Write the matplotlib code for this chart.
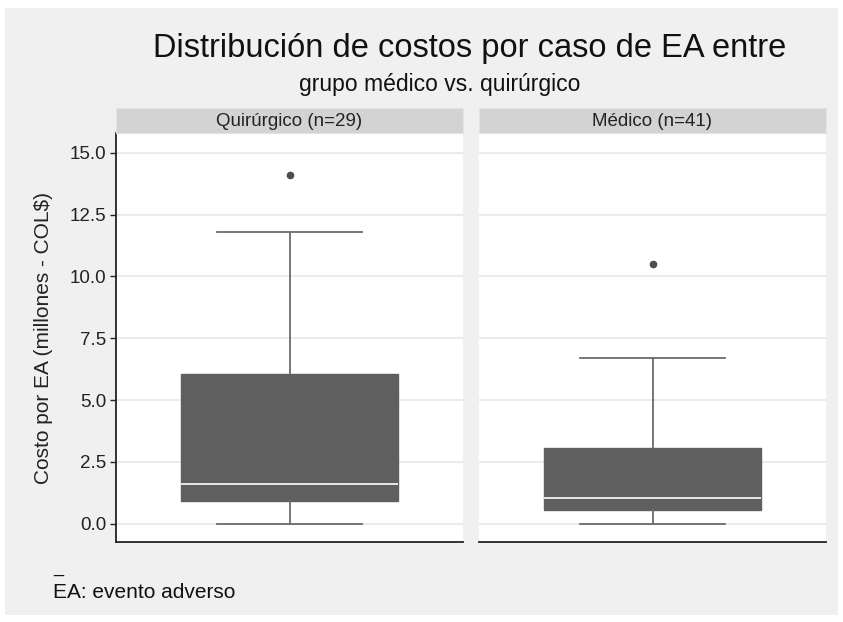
import numpy as np
import matplotlib
matplotlib.use("Agg")
import matplotlib.pyplot as plt
from matplotlib.patches import Rectangle

plt.rcParams['font.family'] = ['Liberation Sans', 'DejaVu Sans']

# Box summaries per group (millones COL$)
groups = ["Quirúrgico (n=29)", "Médico (n=41)"]
q1 = [0.93, 0.55]
medians = [1.59, 1.03]
q3 = [6.06, 3.08]
whisk_lo = [0.0, 0.0]
whisk_hi = [11.78, 6.69]
outliers = [[14.11], [10.5]]

yticks = [0.0, 2.5, 5.0, 7.5, 10.0, 12.5, 15.0]

BOX = "#5f5f5f"
BG = "#f0f0f0"

fig = plt.figure(figsize=(8.43, 6.22), dpi=100)
fig.patch.set_facecolor("white")
fig.patches.append(Rectangle((5 / 843, 1 - 615 / 622), 833 / 843, 607 / 622,
                             transform=fig.transFigure, facecolor=BG,
                             edgecolor="none", zorder=-10))

panel_x = [116 / 843, 479 / 843]
panel_w = 347 / 843
bottom = 1 - 542 / 622
height = (542 - 133) / 622
strip_h = 25 / 622

for i, name in enumerate(groups):
    ax = fig.add_axes([panel_x[i], bottom, panel_w, height])
    ax.set_facecolor("white")
    stats = [{
        "med": medians[i], "q1": q1[i], "q3": q3[i],
        "whislo": whisk_lo[i], "whishi": whisk_hi[i],
        "fliers": outliers[i],
    }]
    ax.bxp(stats, positions=[1], widths=0.75, capwidths=0.5,
           patch_artist=True, showfliers=True,
           boxprops=dict(facecolor=BOX, edgecolor=BOX, linewidth=1),
           medianprops=dict(color="#f2f2f2", linewidth=1.3),
           whiskerprops=dict(color="#6b6b6b", linewidth=1.3),
           capprops=dict(color="#6b6b6b", linewidth=1.3),
           flierprops=dict(marker="o", markersize=4.5, markerfacecolor="#4d4d4d",
                           markeredgecolor="#4d4d4d"))
    ax.set_xlim(0.4, 1.6)
    ax.set_ylim(-0.74, 15.8)
    ax.set_yticks(yticks)
    ax.yaxis.grid(True, color="#ebebeb", linewidth=1.5)
    ax.set_axisbelow(True)
    ax.set_xticks([])
    for s in ["top", "right"]:
        ax.spines[s].set_visible(False)
    ax.spines["bottom"].set_color("#222222")
    ax.spines["bottom"].set_linewidth(1.3)
    if i == 0:
        ax.spines["left"].set_color("#222222")
        ax.spines["left"].set_linewidth(1.3)
        ax.set_yticklabels([f"{t:.1f}" for t in yticks], fontsize=13.5, color="#222222")
        ax.tick_params(axis="y", length=4, width=1, color="#222222", pad=3)
        ax.set_ylabel("Costo por EA (millones - COL$)", fontsize=15,
                      color="#222222", labelpad=12)
    else:
        ax.spines["left"].set_visible(False)
        ax.tick_params(axis="y", length=0, labelleft=False)

    # facet strip
    sax = fig.add_axes([panel_x[i], bottom + height, panel_w, strip_h])
    sax.set_facecolor("#d3d3d3")
    sax.set_xticks([])
    sax.set_yticks([])
    for s in sax.spines.values():
        s.set_color("#dbe6ea")
        s.set_linewidth(0.8)
    sax.text(0.5, 0.45, name, ha="center", va="center", fontsize=13.5,
             color="#222222", transform=sax.transAxes)

fig.text(470 / 843, 1 - 49 / 622, "Distribución de costos por caso de EA entre",
         ha="center", va="center", fontsize=23.5, color="#111111")
fig.text(440 / 843, 1 - 85 / 622, "grupo médico vs. quirúrgico",
         ha="center", va="center", fontsize=16.5, color="#111111")
fig.text(53 / 843, 1 - 568 / 622, "_", ha="left", va="center", fontsize=13,
         color="#111111")
fig.text(53 / 843, 1 - 592 / 622, "EA: evento adverso", ha="left", va="center",
         fontsize=15, color="#111111")

fig.savefig("out.png", dpi=100)
